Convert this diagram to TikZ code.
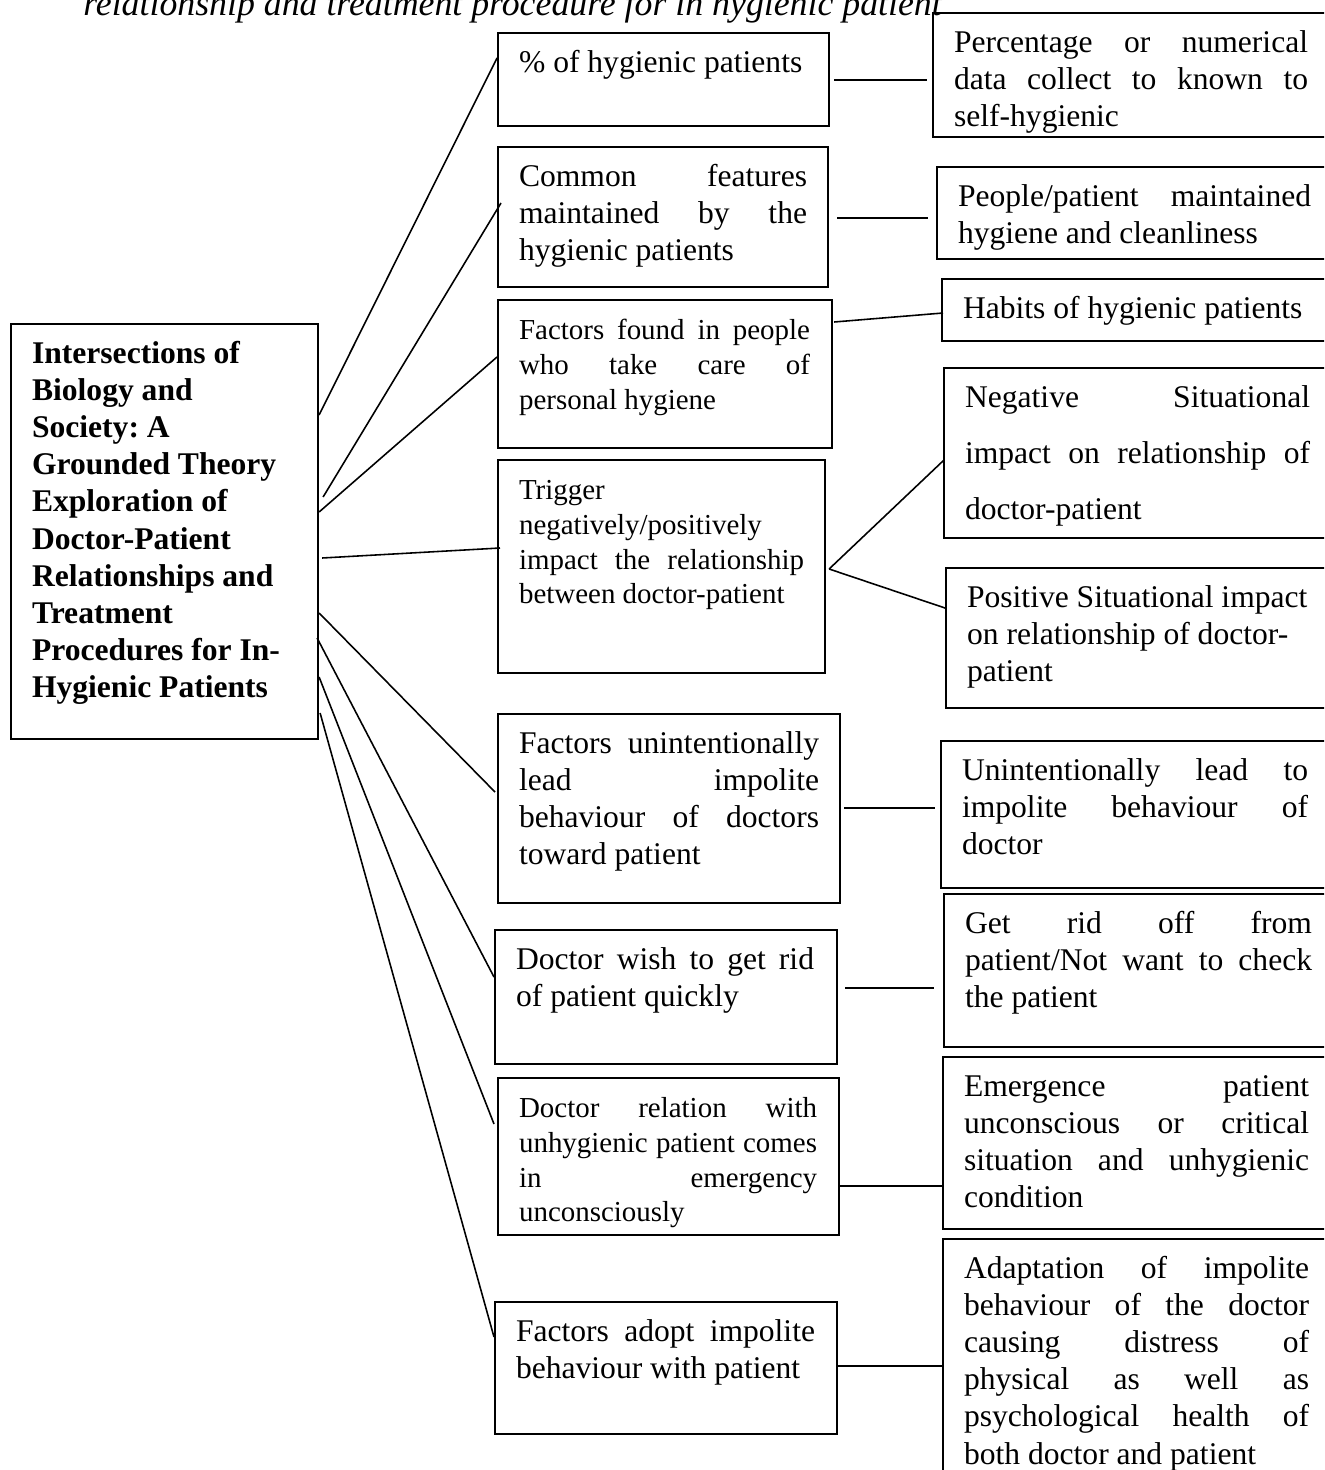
\documentclass[tikz,border=0pt]{standalone}
\usepackage{fontspec}
\setmainfont{Liberation Serif}
\usepackage{tikz}
\usetikzlibrary{calc, positioning}
\frenchspacing

\newlength{\pxu}
\setlength{\pxu}{0.38pt}
% 框内文字: 框宽 框高 文字宽 内容
\newcommand{\boxtxt}[4]{%
  \begin{minipage}[t][#2\pxu][t]{#1\pxu}\tolerance=10000\hbadness=10000%
  \hspace*{21\pxu}\begin{minipage}[t]{#3\pxu}\tolerance=10000\hbadness=10000\rule{0pt}{15pt}#4\end{minipage}%
  \end{minipage}}

\tikzset{
  cell/.style={draw, line width=0.8pt, anchor=north west, inner sep=0pt},
  link/.style={line width=0.6pt},
  txtbig/.style={font=\fontsize{12}{14.1}\selectfont},
  txtsmall/.style={font=\fontsize{11}{13.2}\selectfont}
}

\begin{document}
\begin{tikzpicture}[x=0.38pt, y=-0.38pt]

    \useasboundingbox (0,0) rectangle (1324,1470);
    \clip (0,0) rectangle (1324,1470);

    % 1. 标题 (上端被裁掉)
    \node[anchor=base west, font=\fontsize{13.6}{16}\selectfont\itshape] (title) at (74,16) {relationship and treatment procedure for in hygienic patient};

    % 2. 中心主题框
    \node[cell, txtbig] (main) at (10,323) {\boxtxt{307}{415}{265}{\raggedright\bfseries Intersections of\\ Biology and\\ Society: A\\ Grounded Theory\\ Exploration of\\ Doctor-Patient\\ Relationships and\\ Treatment\\ Procedures for In-\\ Hygienic Patients}};

    % 3. 中间一列
    \node[cell, txtbig] (pct) at (497,32) {\boxtxt{331}{93}{289}{\% of hygienic patients}};
    \node[cell, txtbig] (common) at (497,146) {\boxtxt{330}{140}{288}{Common features\linebreak maintained by the\linebreak hygienic patients}};
    \node[cell, txtsmall] (factors) at (497,299) {\boxtxt{334}{148}{291}{Factors found in people\linebreak who take care of\linebreak personal hygiene}};
    \node[cell, txtsmall] (trigger) at (497,459) {\boxtxt{327}{213}{285}{Trigger\\ negatively/positively\\ impact the relationship\linebreak between doctor-patient}};
    \node[cell, txtbig] (unintended) at (497,713) {\boxtxt{342}{189}{300}{Factors unintentionally\linebreak lead impolite\linebreak behaviour of doctors\linebreak toward patient}};
    \node[cell, txtbig] (wish) at (494,929) {\boxtxt{342}{134}{298}{Doctor wish to get rid\linebreak of patient quickly}};
    \node[cell, txtsmall] (relation) at (497,1077) {\boxtxt{341}{157}{298}{Doctor relation with\linebreak unhygienic patient comes\linebreak in emergency\linebreak unconsciously}};
    \node[cell, txtbig] (adopt) at (494,1301) {\boxtxt{342}{132}{299}{Factors adopt impolite\linebreak behaviour with patient}};

    % 4. 右边一列 (右端被裁掉)
    \node[cell, txtbig] (pctdata) at (932,12) {\boxtxt{420}{124}{354}{Percentage or numerical\linebreak data collect to known to\linebreak self-hygienic}};
    \node[cell, txtbig] (clean) at (936,166) {\boxtxt{420}{92}{353}{People/patient maintained\linebreak hygiene and cleanliness}};
    \node[cell, txtbig] (habits) at (941,278) {\boxtxt{420}{62}{345}{Habits of hygienic patients}};
    \node[cell, font=\fontsize{12}{21.2}\selectfont] (negative) at (943,367) {\boxtxt{420}{170}{345}{Negative Situational\linebreak impact on relationship of\linebreak doctor-patient}};
    \node[cell, txtbig] (positive) at (945,567) {\boxtxt{420}{140}{345}{\raggedright Positive Situational impact\\ on relationship of doctor-\\ patient}};
    \node[cell, txtbig] (impolite) at (940,740) {\boxtxt{420}{147}{346}{Unintentionally lead to\linebreak impolite behaviour of\linebreak doctor}};
    \node[cell, txtbig] (getrid) at (943,893) {\boxtxt{420}{153}{347}{Get rid off from\linebreak patient/Not want to check\linebreak the patient}};
    \node[cell, txtbig] (emergency) at (942,1056) {\boxtxt{420}{172}{345}{Emergence patient\linebreak unconscious or critical\linebreak situation and unhygienic\linebreak condition}};
    \node[cell, txtbig] (distress) at (942,1238) {\boxtxt{420}{260}{345}{Adaptation of impolite\linebreak behaviour of the doctor\linebreak causing distress of\linebreak physical as well as\linebreak psychological health of\linebreak both doctor and patient}};

    % 5. 主题到中间列的连线
    \draw[link] ($(main.north east)+(0,92)$) -- ($(pct.north west)+(0,26)$);
    \draw[link] ($(main.north east)+(4,174)$) -- ($(common.north west)+(4,57)$);
    \draw[link] ($(main.north east)+(0,189)$) -- ($(factors.north west)+(0,58)$);
    \draw[link] ($(main.north east)+(3,235)$) -- ($(trigger.north west)+(3,89)$);
    \draw[link] ($(main.north east)+(0,290)$) -- ($(unintended.north west)+(-2,79)$);
    \draw[link] ($(main.north east)+(-2,315)$) -- ($(wish.north west)+(0,48)$);
    \draw[link] ($(main.north east)+(0,354)$) -- ($(relation.north west)+(-3,47)$);
    \draw[link] ($(main.north east)+(1,390)$) -- ($(adopt.north west)+(0,36)$);

    % 6. 中间列到右列的连线
    \draw[link] ($(pct.north east)+(4,48)$) -- ($(pctdata.north west)+(-5,68)$);
    \draw[link] ($(common.north east)+(8,72)$) -- ($(clean.north west)+(-8,52)$);
    \draw[link] ($(factors.north east)+(1,23)$) -- ($(habits.north west)+(2,35)$);
    \draw[link] ($(trigger.north east)+(3,110)$) -- ($(negative.north west)+(1,93)$);
    \draw[link] ($(trigger.north east)+(3,110)$) -- ($(positive.north west)+(0,41)$);
    \draw[link] ($(unintended.north east)+(3,95)$) -- ($(impolite.north west)+(-5,68)$);
    \draw[link] ($(wish.north east)+(7,59)$) -- ($(getrid.north west)+(-9,95)$);
    \draw[link] ($(relation.north east)+(0,109)$) -- ($(emergency.north west)+(0,130)$);
    \draw[link] ($(adopt.north east)+(0,65)$) -- ($(distress.north west)+(0,128)$);

\end{tikzpicture}
\end{document}
